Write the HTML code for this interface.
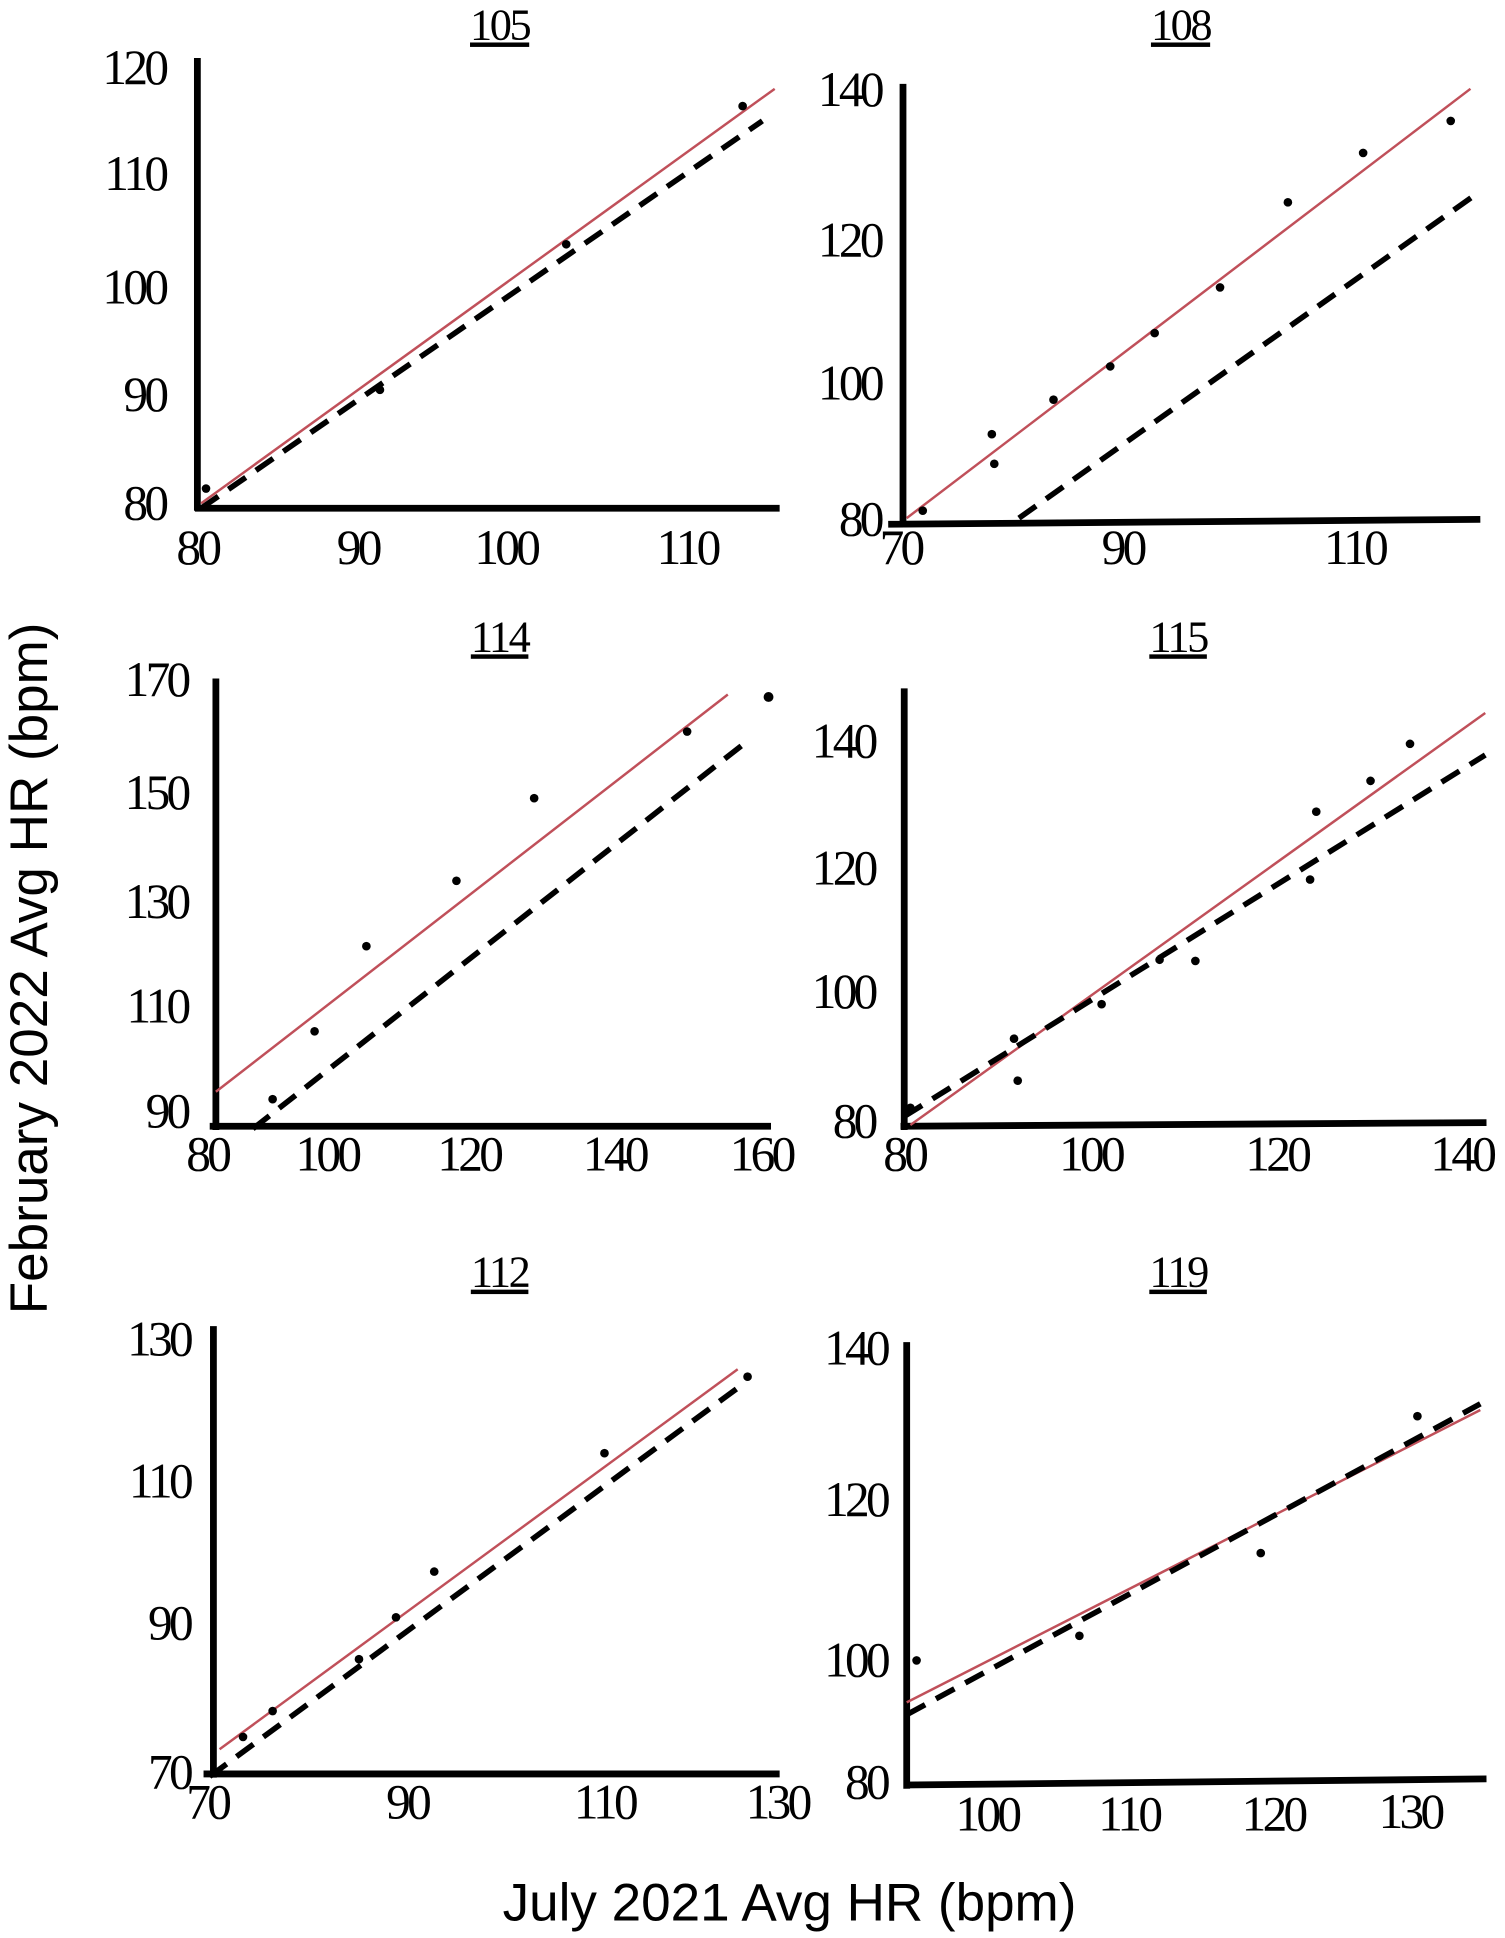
<!DOCTYPE html>
<html><head><meta charset="utf-8"><style>html,body{margin:0;padding:0;background:#fff}svg{display:block}</style></head>
<body>
<svg width="1505" height="1938" viewBox="0 0 1220 1571" xmlns="http://www.w3.org/2000/svg">
<style>
.t{font-family:"Liberation Serif",serif;font-size:40px;letter-spacing:-3px;fill:#000}
.ti{font-family:"Liberation Serif",serif;font-size:36px;letter-spacing:-2px;fill:#000;text-decoration:underline}
.ax{stroke:#000;stroke-width:5.5;fill:none}
.r{stroke:#c0505a;stroke-width:2;fill:none}
.d{stroke:#000;stroke-width:4.5;stroke-dasharray:17,10;fill:none}
.ttl{font-family:"Liberation Sans","DejaVu Sans",sans-serif;font-size:43px;fill:#000}
</style>

<!-- 105 -->
<text class="ti" x="405" y="32" text-anchor="middle">105</text>
<path class="ax" d="M160 47V414M158 412H632"/>
<g class="t" text-anchor="end"><text x="134" y="68">120</text><text x="134" y="154">110</text><text x="134" y="246">100</text><text x="134" y="333">90</text><text x="134" y="421">80</text></g>
<g class="t" text-anchor="middle"><text x="160" y="457">80</text><text x="290" y="457">90</text><text x="410" y="457">100</text><text x="557" y="457">110</text></g>
<line class="r" x1="163" y1="408" x2="628" y2="72"/><line class="d" x1="163" y1="412" x2="618" y2="98"/>
<g fill="#000"><circle cx="167" cy="396" r="3.5"/><circle cx="308" cy="316" r="3.5"/><circle cx="459" cy="198" r="3.5"/><circle cx="602" cy="86" r="3.5"/></g>

<!-- 108 -->
<text class="ti" x="957" y="32" text-anchor="middle">108</text>
<path class="ax" d="M732 68V426M720 425L1200 421"/>
<g class="t" text-anchor="end"><text x="714" y="86">140</text><text x="714" y="208">120</text><text x="714" y="324">100</text><text x="714" y="434">80</text></g>
<g class="t" text-anchor="middle"><text x="730" y="457">70</text><text x="910" y="457">90</text><text x="1098" y="457">110</text></g>
<line class="r" x1="735" y1="420" x2="1192" y2="72"/><line class="d" x1="826" y1="420" x2="1200" y2="155"/>
<g fill="#000"><circle cx="748" cy="414" r="3.5"/><circle cx="804" cy="352" r="3.5"/><circle cx="806" cy="376" r="3.5"/><circle cx="854" cy="324" r="3.5"/><circle cx="900" cy="297" r="3.5"/><circle cx="936" cy="270" r="3.5"/><circle cx="989" cy="233" r="3.5"/><circle cx="1044" cy="164" r="3.5"/><circle cx="1105" cy="124" r="3.5"/><circle cx="1176" cy="98" r="3.5"/></g>

<!-- 114 -->
<text class="ti" x="405" y="528" text-anchor="middle">114</text>
<path class="ax" d="M175 550V916M170 913H625"/>
<g class="t" text-anchor="end"><text x="152" y="564">170</text><text x="152" y="656">150</text><text x="152" y="744">130</text><text x="152" y="829">110</text><text x="152" y="914">90</text></g>
<g class="t" text-anchor="middle"><text x="168" y="949">80</text><text x="265" y="949">100</text><text x="380" y="949">120</text><text x="498" y="949">140</text><text x="617" y="949">160</text></g>
<line class="r" x1="175" y1="885" x2="590" y2="563"/><line class="d" x1="205" y1="915" x2="603" y2="603"/>
<g fill="#000"><circle cx="221" cy="891" r="3.5"/><circle cx="255" cy="836" r="3.5"/><circle cx="297" cy="767" r="3.5"/><circle cx="370" cy="714" r="3.5"/><circle cx="433" cy="647" r="3.5"/><circle cx="557" cy="593" r="3.5"/><circle cx="623" cy="565" r="4"/></g>

<!-- 115 -->
<text class="ti" x="955" y="528" text-anchor="middle">115</text>
<path class="ax" d="M733 558V916M730 913L1205 910"/>
<g class="t" text-anchor="end"><text x="709" y="614">140</text><text x="709" y="717">120</text><text x="709" y="817">100</text><text x="709" y="922">80</text></g>
<g class="t" text-anchor="middle"><text x="733" y="949">80</text><text x="884" y="949">100</text><text x="1035" y="949">120</text><text x="1185" y="949">140</text></g>
<line class="r" x1="738" y1="912" x2="1204" y2="578"/><line class="d" x1="733" y1="905" x2="1204" y2="612"/>
<g fill="#000"><circle cx="738" cy="898" r="3.5"/><circle cx="822" cy="842" r="3.5"/><circle cx="825" cy="876" r="3.5"/><circle cx="893" cy="814" r="3.5"/><circle cx="940" cy="778" r="3.5"/><circle cx="969" cy="779" r="3.5"/><circle cx="1062" cy="713" r="3.5"/><circle cx="1067" cy="658" r="3.5"/><circle cx="1111" cy="633" r="3.5"/><circle cx="1143" cy="603" r="3.5"/></g>

<!-- 112 -->
<text class="ti" x="405" y="1043" text-anchor="middle">112</text>
<path class="ax" d="M173 1075V1441M165 1438H632"/>
<g class="t" text-anchor="end"><text x="154" y="1099">130</text><text x="154" y="1214">110</text><text x="154" y="1329">90</text><text x="154" y="1450">70</text></g>
<g class="t" text-anchor="middle"><text x="168" y="1474">70</text><text x="330" y="1474">90</text><text x="490" y="1474">110</text><text x="630" y="1474">130</text></g>
<line class="r" x1="178" y1="1418" x2="598" y2="1110"/><line class="d" x1="170" y1="1440" x2="605" y2="1120"/>
<g fill="#000"><circle cx="197" cy="1408" r="3.5"/><circle cx="221" cy="1387" r="3.5"/><circle cx="291" cy="1345" r="3.5"/><circle cx="321" cy="1311" r="3.5"/><circle cx="352" cy="1274" r="3.5"/><circle cx="490" cy="1178" r="3.5"/><circle cx="606" cy="1116" r="3.5"/></g>

<!-- 119 -->
<text class="ti" x="955" y="1043" text-anchor="middle">119</text>
<path class="ax" d="M735 1088V1450M733 1447L1205 1442"/>
<g class="t" text-anchor="end"><text x="719" y="1106">140</text><text x="719" y="1229">120</text><text x="719" y="1359">100</text><text x="719" y="1458">80</text></g>
<g class="t" text-anchor="middle"><text x="800" y="1484">100</text><text x="915" y="1484">110</text><text x="1032" y="1484">120</text><text x="1143" y="1482">130</text></g>
<line class="r" x1="735" y1="1380" x2="1200" y2="1143"/><line class="d" x1="735" y1="1390" x2="1200" y2="1138"/>
<g fill="#000"><circle cx="743" cy="1346" r="3.5"/><circle cx="875" cy="1326" r="3.5"/><circle cx="1022" cy="1259" r="3.5"/><circle cx="1149" cy="1148" r="3.5"/></g>

<text class="ttl" x="640" y="1557" text-anchor="middle">July 2021 Avg HR (bpm)</text>
<text class="ttl" transform="translate(38,785) rotate(-90)" text-anchor="middle">February 2022 Avg HR (bpm)</text>
</svg>
</body></html>
